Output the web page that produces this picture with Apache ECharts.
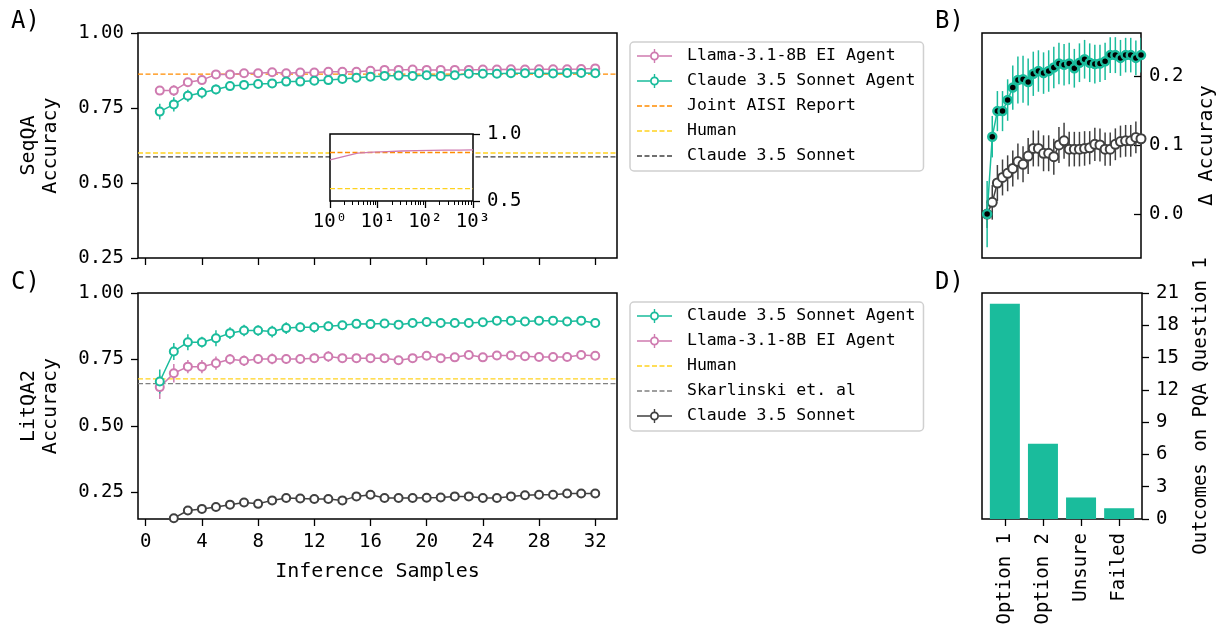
<!DOCTYPE html>
<html>
<head>
<meta charset="utf-8">
<script src="https://cdn.jsdelivr.net/npm/echarts@6/dist/echarts.min.js"></script>
<style>
  html, body { margin: 0; padding: 0; background: #fff; }
  #chart { width: 1218px; height: 634px; }
</style>
</head>
<body>
<div id="chart"></div>
<script>
// inference samples (x for panels A, B, C)
var samples = [1,2,3,4,5,6,7,8,9,10,11,12,13,14,15,16,17,18,19,20,21,22,23,24,25,26,27,28,29,30,31,32];
var sampleTicks = [0,4,8,12,16,20,24,28,32];

// A) SeqQA
var seqLlama = [0.808,0.808,0.836,0.843,0.862,0.862,0.866,0.866,0.869,0.866,0.868,0.868,0.871,0.871,0.871,0.874,0.877,0.877,0.878,0.877,0.877,0.877,0.877,0.878,0.878,0.879,0.878,0.879,0.879,0.879,0.880,0.882];
var seqLlamaErr = [0.012,0.018,0.012,0.012,0.009,0.008,0.008,0.007,0.007,0.007,0.006,0.006,0.006,0.006,0.006,0.006,0.006,0.005,0.005,0.005,0.005,0.005,0.005,0.005,0.005,0.005,0.005,0.005,0.005,0.005,0.005,0.005];
var seqClaude = [0.738,0.762,0.791,0.801,0.812,0.823,0.827,0.830,0.832,0.838,0.838,0.841,0.843,0.847,0.851,0.854,0.857,0.858,0.857,0.859,0.857,0.859,0.864,0.864,0.864,0.866,0.866,0.866,0.865,0.867,0.867,0.866];
var seqClaudeErr = [0.026,0.024,0.02,0.019,0.016,0.014,0.013,0.012,0.012,0.011,0.011,0.01,0.01,0.01,0.009,0.009,0.009,0.008,0.008,0.008,0.008,0.008,0.007,0.007,0.007,0.007,0.007,0.007,0.007,0.007,0.007,0.007];
var seqAisi = 0.863;
var seqHuman = 0.600;
var seqSonnet = 0.587;

// A) inset, log x
var insetX = [1, 3.8, 8, 16, 32, 64, 128, 256, 512, 1000];
var insetY = [0.807, 0.858, 0.864, 0.869, 0.873, 0.876, 0.878, 0.879, 0.880, 0.882];
var insetAisi = 0.862;
var insetHuman = 0.592;
var insetTicks = [1, 10, 100, 1000];
var insetMinor = [2,3,4,5,6,7,8,9,20,30,40,50,60,70,80,90,200,300,400,500,600,700,800,900];

// B) delta accuracy
var deltaAgent = [0,0.112,0.149,0.149,0.165,0.183,0.194,0.195,0.191,0.203,0.207,0.204,0.207,0.212,0.218,0.216,0.218,0.211,0.219,0.224,0.219,0.217,0.218,0.221,0.230,0.230,0.226,0.230,0.230,0.226,0.230,0.222];
var deltaAgentErr = [0.048,0.03,0.029,0.029,0.03,0.032,0.034,0.034,0.034,0.032,0.03,0.03,0.03,0.03,0.03,0.03,0.03,0.028,0.028,0.028,0.028,0.028,0.027,0.027,0.026,0.026,0.026,0.025,0.025,0.025,0.025,0.025];
var deltaSonnet = [0,0.017,0.045,0.053,0.059,0.066,0.076,0.072,0.084,0.095,0.095,0.088,0.088,0.083,0.100,0.106,0.094,0.094,0.094,0.095,0.096,0.101,0.100,0.094,0.094,0.101,0.105,0.106,0.106,0.111,0.109,0.110];
var deltaSonnetErr = [0.02,0.025,0.026,0.026,0.026,0.026,0.026,0.026,0.026,0.026,0.026,0.026,0.026,0.026,0.026,0.026,0.025,0.025,0.025,0.025,0.024,0.024,0.024,0.024,0.024,0.023,0.023,0.023,0.023,0.023,0.022,0.022];
var deltaTicks = [0, 0.1, 0.2];

// C) LitQA2
var litClaude = [0.667,0.780,0.815,0.815,0.830,0.849,0.859,0.859,0.855,0.868,0.871,0.871,0.875,0.879,0.884,0.883,0.885,0.881,0.887,0.891,0.887,0.887,0.887,0.890,0.896,0.896,0.893,0.896,0.896,0.893,0.896,0.887];
var litClaudeErr = [0.045,0.032,0.03,0.02,0.03,0.022,0.022,0.02,0.022,0.022,0.018,0.02,0.018,0.016,0.016,0.018,0.016,0.014,0.014,0.014,0.014,0.014,0.012,0.012,0.012,0.012,0.012,0.012,0.012,0.012,0.012,0.012];
var litLlama = [0.646,0.698,0.723,0.723,0.736,0.751,0.745,0.752,0.752,0.752,0.752,0.755,0.761,0.755,0.755,0.755,0.755,0.747,0.755,0.764,0.755,0.758,0.767,0.758,0.765,0.765,0.762,0.759,0.759,0.759,0.767,0.764];
var litLlamaErr = [0.045,0.035,0.025,0.025,0.025,0.02,0.02,0.018,0.02,0.018,0.018,0.018,0.02,0.016,0.016,0.016,0.016,0.016,0.014,0.014,0.014,0.014,0.014,0.014,0.014,0.014,0.014,0.014,0.014,0.014,0.014,0.014];
var litSonnet = [0.136,0.153,0.182,0.188,0.195,0.204,0.212,0.207,0.220,0.229,0.227,0.225,0.225,0.220,0.235,0.241,0.229,0.229,0.229,0.230,0.231,0.235,0.235,0.229,0.229,0.235,0.239,0.241,0.241,0.246,0.246,0.246];
var litSonnetErr = [0.012,0.012,0.012,0.012,0.012,0.012,0.012,0.012,0.012,0.012,0.012,0.012,0.012,0.012,0.012,0.012,0.012,0.012,0.012,0.012,0.012,0.012,0.012,0.012,0.012,0.012,0.012,0.012,0.012,0.012,0.012,0.012];
var litHuman = 0.677;
var litSkarlinski = 0.659;
var accTicksC = [0.25, 0.5, 0.75, 1.0];

// D) outcomes
var outcomeLabels = ['Option 1', 'Option 2', 'Unsure', 'Failed'];
var outcomeCounts = [20, 7, 2, 1];
var outcomePos = [0, 1, 2, 3];

var GREEN = '#1ABC9C', PINK = '#CF7BB0', ORANGE = '#FF8C00', YELLOW = '#FFD21F', DARK = '#404040', GRAY = '#808080';
var FONT = 'DejaVu Sans Mono';
var XMIN = -0.55, XMAX = 33.55;

// legend handles: dashed line, and line + open marker + error tick
var DASH_ICON = 'path://M0,0h5v1.4h-5z M7.5,0h5v1.4h-5z M15,0h5v1.4h-5z M22.5,0h5v1.4h-5z M30,0h5v1.4h-5z';
var ERR_ICON = 'path://M0,6.3h13v1.4h-13z M22,6.3h13v1.4h-13z M16.8,0h1.4v2.6h-1.4z M16.8,11.4h1.4v2.6h-1.4z ' +
  'M13,7 A4.5,4.5 0 1,0 22,7 A4.5,4.5 0 1,0 13,7 Z M14.8,7 A2.7,2.7 0 1,1 20.2,7 A2.7,2.7 0 1,1 14.8,7 Z';

function pairs(x, y) {
  return x.map(function (v, i) { return [v, y[i]]; });
}

function errBars(idx, x, y, e, color, z) {
  return {
    type: 'custom', xAxisIndex: idx, yAxisIndex: idx, clip: true, silent: true, z: z || 2,
    name: 'err' + idx + color,
    data: x.map(function (v, i) { return [v, y[i] - e[i], y[i] + e[i]]; }),
    encode: { x: 0, y: [1, 2] },
    renderItem: function (params, api) {
      var a = api.coord([api.value(0), api.value(1)]);
      var b = api.coord([api.value(0), api.value(2)]);
      return { type: 'line', shape: { x1: a[0], y1: a[1], x2: b[0], y2: b[1] },
               style: { stroke: color, lineWidth: 1.5 } };
    }
  };
}

function markerLine(idx, name, x, y, color) {
  return {
    type: 'line', name: name, xAxisIndex: idx, yAxisIndex: idx, z: 3,
    data: pairs(x, y), symbol: 'emptyCircle', symbolSize: 8,
    itemStyle: { color: color, borderWidth: 2 },
    lineStyle: { color: color, width: 1.5 }, animation: false
  };
}

function refLine(idx, name, v, color, x0, x1, z) {
  return {
    type: 'line', name: name, xAxisIndex: idx, yAxisIndex: idx, z: z || 1,
    data: [[x0, v], [x1, v]], symbol: 'none', silent: true,
    lineStyle: { color: color, width: 1.3, type: [5, 2.5] },
    itemStyle: { color: color }, animation: false
  };
}

var noLine = { show: false, onZero: false };
var tickStyle = { show: true, length: 7, lineStyle: { color: '#000', width: 1.3 } };
var labelStyle = { color: '#000', fontFamily: FONT, fontSize: 19 };
var nameStyle = { color: '#000', fontFamily: FONT, fontSize: 20 };
var panelStyle = { fontFamily: FONT, fontSize: 24, fontWeight: 'normal', color: '#000' };
var legendBase = {
  orient: 'vertical', itemWidth: 35, itemHeight: 14, itemGap: 7,
  padding: [5, 8, 6, 7], borderColor: '#d0d0d0', borderWidth: 1.5, borderRadius: 4,
  backgroundColor: 'rgba(255,255,255,0.8)', selectedMode: false,
  textStyle: { fontFamily: FONT, fontSize: 16.5, color: '#000', lineHeight: 18, padding: [0, 0, 0, 10] }
};

var chart = echarts.init(document.getElementById('chart'));
chart.setOption({
  animation: false,
  backgroundColor: '#fff',
  title: [
    { text: 'A)', left: 6, top: 5, textStyle: panelStyle },
    { text: 'B)', left: 930, top: 5, textStyle: panelStyle },
    { text: 'C)', left: 6, top: 266, textStyle: panelStyle },
    { text: 'D)', left: 930, top: 266, textStyle: panelStyle }
  ],
  legend: [
    Object.assign({}, legendBase, {
      left: 630, top: 42,
      data: [
        { name: 'Llama-3.1-8B EI Agent', icon: ERR_ICON },
        { name: 'Claude 3.5 Sonnet Agent', icon: ERR_ICON },
        { name: 'Joint AISI Report', icon: DASH_ICON },
        { name: 'Human', icon: DASH_ICON },
        { name: 'Claude 3.5 Sonnet', icon: DASH_ICON }
      ]
    }),
    Object.assign({}, legendBase, {
      left: 630, top: 302,
      formatter: function (n) { return n.replace(' (LitQA2)', ''); },
      data: [
        { name: 'Claude 3.5 Sonnet Agent', icon: ERR_ICON },
        { name: 'Llama-3.1-8B EI Agent', icon: ERR_ICON },
        { name: 'Human', icon: DASH_ICON },
        { name: 'Skarlinski et. al', icon: DASH_ICON },
        { name: 'Claude 3.5 Sonnet (LitQA2)', icon: ERR_ICON }
      ]
    })
  ],
  grid: [
    { left: 138, top: 33, width: 479, height: 225, show: true, borderColor: '#000', borderWidth: 1.5 },
    { left: 982, top: 33, width: 160, height: 225, show: true, borderColor: '#000', borderWidth: 1.5 },
    { left: 138, top: 293, width: 479, height: 226, show: true, borderColor: '#000', borderWidth: 1.5 },
    { left: 982, top: 293, width: 160, height: 226, show: true, borderColor: '#000', borderWidth: 1.5 },
    { left: 330, top: 134, width: 143, height: 67, show: true, borderColor: '#000', borderWidth: 1.5, backgroundColor: '#fff', z: 5 }
  ],
  xAxis: [
    { gridIndex: 0, type: 'value', min: XMIN, max: XMAX, splitLine: { show: false }, axisLine: noLine,
      axisTick: Object.assign({ customValues: sampleTicks }, tickStyle), axisLabel: { show: false } },
    { gridIndex: 1, type: 'value', min: 0, max: 31, splitLine: { show: false }, axisLine: noLine,
      axisTick: { show: false }, axisLabel: { show: false } },
    { gridIndex: 2, type: 'value', min: XMIN, max: XMAX, splitLine: { show: false }, axisLine: noLine,
      axisTick: Object.assign({ customValues: sampleTicks }, tickStyle),
      axisLabel: Object.assign({ customValues: sampleTicks, margin: 14 }, labelStyle),
      name: 'Inference Samples', nameLocation: 'middle', nameGap: 43, nameTextStyle: nameStyle },
    { gridIndex: 3, type: 'value', min: -0.6, max: 3.6, splitLine: { show: false }, axisLine: noLine,
      axisTick: Object.assign({ customValues: outcomePos }, tickStyle),
      axisLabel: Object.assign({ customValues: outcomePos, rotate: 90, margin: 14,
        formatter: function (v) { return outcomeLabels[Math.round(v)]; } }, labelStyle) },
    { gridIndex: 4, type: 'log', logBase: 10, min: 1, max: 1000, z: 6, position: 'bottom',
      splitLine: { show: false }, axisLine: noLine,
      axisTick: Object.assign({ customValues: insetTicks }, tickStyle),
      axisLabel: Object.assign({ customValues: insetTicks, margin: 12,
        formatter: function (v) { return '10' + '⁰¹²³'.charAt(Math.round(Math.log10(v))); } }, labelStyle) },
    { gridIndex: 4, type: 'log', logBase: 10, min: 1, max: 1000, z: 6, position: 'bottom',
      splitLine: { show: false }, axisLine: noLine,
      axisTick: { show: true, customValues: insetMinor, length: 4, lineStyle: { color: '#000', width: 1 } },
      axisLabel: { show: false } }
  ],
  yAxis: [
    { gridIndex: 0, type: 'value', min: 0.25, max: 1.0, interval: 0.25, splitLine: { show: false }, axisLine: noLine,
      axisTick: tickStyle,
      axisLabel: Object.assign({ margin: 14, formatter: function (v) { return v.toFixed(2); } }, labelStyle),
      name: 'SeqQA\nAccuracy', nameLocation: 'middle', nameRotate: 90, nameGap: 76,
      nameTextStyle: Object.assign({ lineHeight: 22 }, nameStyle) },
    { gridIndex: 1, type: 'value', position: 'right', min: -0.0635, max: 0.262, splitLine: { show: false }, axisLine: noLine,
      axisTick: Object.assign({ customValues: deltaTicks, inside: true }, tickStyle),
      axisLabel: Object.assign({ customValues: deltaTicks, margin: 8, formatter: function (v) { return v.toFixed(1); } }, labelStyle),
      name: 'Δ Accuracy', nameLocation: 'middle', nameRotate: 90, nameGap: 56, nameTextStyle: nameStyle },
    { gridIndex: 2, type: 'value', min: 0.15, max: 1.0, splitLine: { show: false }, axisLine: noLine,
      axisTick: Object.assign({ customValues: accTicksC }, tickStyle),
      axisLabel: Object.assign({ customValues: accTicksC, margin: 14, formatter: function (v) { return v.toFixed(2); } }, labelStyle),
      name: 'LitQA2\nAccuracy', nameLocation: 'middle', nameRotate: 90, nameGap: 76,
      nameTextStyle: Object.assign({ lineHeight: 22 }, nameStyle) },
    { gridIndex: 3, type: 'value', position: 'right', min: 0, max: 21, interval: 3, splitLine: { show: false }, axisLine: noLine,
      axisTick: tickStyle,
      axisLabel: Object.assign({ margin: 14 }, labelStyle),
      name: 'Outcomes on PQA Question 1', nameLocation: 'middle', nameRotate: 90, nameGap: 50,
      nameTextStyle: Object.assign({}, nameStyle, { fontSize: 19 }) },
    { gridIndex: 4, type: 'value', position: 'right', min: 0.5, max: 1.0, z: 6, splitLine: { show: false }, axisLine: noLine,
      axisTick: Object.assign({ customValues: [0.5, 1.0] }, tickStyle),
      axisLabel: Object.assign({ customValues: [0.5, 1.0], margin: 14, formatter: function (v) { return v.toFixed(1); } }, labelStyle) }
  ],
  series: [
    // A
    refLine(0, 'Joint AISI Report', seqAisi, ORANGE, XMIN, XMAX),
    refLine(0, 'Human', seqHuman, YELLOW, XMIN, XMAX),
    refLine(0, 'Claude 3.5 Sonnet', seqSonnet, DARK, XMIN, XMAX),
    errBars(0, samples, seqLlama, seqLlamaErr, PINK),
    errBars(0, samples, seqClaude, seqClaudeErr, GREEN),
    markerLine(0, 'Llama-3.1-8B EI Agent', samples, seqLlama, PINK),
    markerLine(0, 'Claude 3.5 Sonnet Agent', samples, seqClaude, GREEN),
    // A inset
    refLine(4, 'inset aisi', insetAisi, ORANGE, 1, 1000, 6),
    refLine(4, 'inset human', insetHuman, YELLOW, 1, 1000, 6),
    { type: 'line', name: 'inset llama', xAxisIndex: 4, yAxisIndex: 4, z: 7, data: pairs(insetX, insetY),
      symbol: 'none', lineStyle: { color: PINK, width: 1.3 }, animation: false },
    // B
    errBars(1, samples, deltaSonnet, deltaSonnetErr, DARK),
    errBars(1, samples, deltaAgent, deltaAgentErr, GREEN),
    { type: 'line', name: 'delta sonnet', xAxisIndex: 1, yAxisIndex: 1, z: 3, data: pairs(samples, deltaSonnet),
      symbol: 'emptyCircle', symbolSize: 9, itemStyle: { color: DARK, borderWidth: 2 },
      lineStyle: { color: DARK, width: 1.5 }, animation: false },
    { type: 'line', name: 'delta agent', xAxisIndex: 1, yAxisIndex: 1, z: 4, data: pairs(samples, deltaAgent),
      symbol: 'circle', symbolSize: 8, itemStyle: { color: '#000', borderColor: GREEN, borderWidth: 2.5 },
      lineStyle: { color: GREEN, width: 1.5 }, animation: false },
    // C
    refLine(2, 'Human', litHuman, YELLOW, XMIN, XMAX),
    refLine(2, 'Skarlinski et. al', litSkarlinski, GRAY, XMIN, XMAX),
    errBars(2, samples, litSonnet, litSonnetErr, DARK),
    errBars(2, samples, litLlama, litLlamaErr, PINK),
    errBars(2, samples, litClaude, litClaudeErr, GREEN),
    markerLine(2, 'Claude 3.5 Sonnet (LitQA2)', samples, litSonnet, DARK),
    markerLine(2, 'Llama-3.1-8B EI Agent', samples, litLlama, PINK),
    markerLine(2, 'Claude 3.5 Sonnet Agent', samples, litClaude, GREEN),
    // D
    { type: 'bar', name: 'outcomes', xAxisIndex: 3, yAxisIndex: 3, barWidth: 30,
      data: pairs(outcomePos, outcomeCounts), itemStyle: { color: GREEN }, animation: false }
  ]
});
</script>
</body>
</html>
